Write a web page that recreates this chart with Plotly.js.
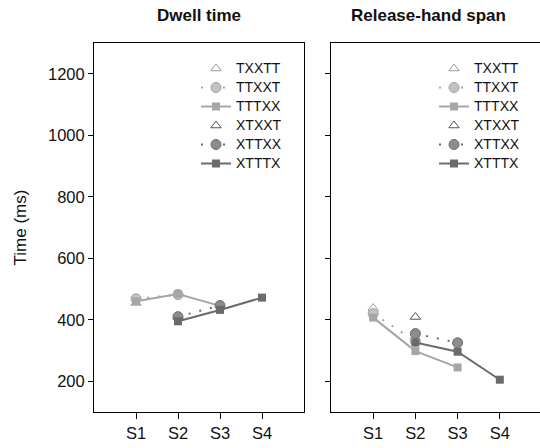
<!DOCTYPE html>
<html>
<head>
<meta charset="utf-8">
<script src="https://cdn.plot.ly/plotly-3.0.1.min.js"></script>
<style>html,body{margin:0;padding:0;background:#fff}#chart{width:540px;height:448px}</style>
</head>
<body>
<div id="chart"></div>
<script>
// Categories
const stages = ['S1', 'S2', 'S3', 'S4'];
const seriesNames = ['TXXTT', 'TTXXT', 'TTTXX', 'XTXXT', 'XTTXX', 'XTTTX'];
const panelTitles = ['Dwell time', 'Release-hand span'];
const yTicks = [200, 400, 600, 800, 1000, 1200];

// Dwell time (ms)
const dwellTXXTT = [455, null, null, null];
const dwellTTXXT = [468, 482, null, null];
const dwellTTTXX = [460, 484, 445, null];
const dwellXTXXT = [null, 410, null, null];
const dwellXTTXX = [null, 410, 446, null];
const dwellXTTTX = [null, 395, 432, 472];

// Release-hand span (ms)
const spanTXXTT = [438, null, null, null];
const spanTTXXT = [420, 330, null, null];
const spanTTTXX = [407, 298, 245, null];
const spanXTXXT = [null, 409, null, null];
const spanXTTXX = [null, 355, 325, null];
const spanXTTTX = [null, 326, 296, 205];

const xpos = stages.map((s, i) => i + 1);

const styles = {
  TXXTT: {mode: 'markers', marker: {symbol: 'triangle-up-open', size: 9, color: '#9a9a9a', line: {width: 1, color: '#9a9a9a'}}},
  TTXXT: {mode: 'lines+markers', line: {color: '#a8a8a8', width: 2, dash: '2px,9px'}, marker: {symbol: 'circle', size: 10, color: '#c2c2c2', line: {width: 1, color: '#a0a0a0'}}},
  TTTXX: {mode: 'lines+markers', line: {color: '#a6a6a6', width: 2}, marker: {symbol: 'square', size: 8, color: '#a6a6a6', line: {width: 0}}},
  XTXXT: {mode: 'markers', marker: {symbol: 'triangle-up-open', size: 9, color: '#555555', line: {width: 1, color: '#555555'}}},
  XTTXX: {mode: 'lines+markers', line: {color: '#6a6a6a', width: 2, dash: '2px,9px'}, marker: {symbol: 'circle', size: 10, color: '#8c8c8c', line: {width: 1, color: '#6a6a6a'}}},
  XTTTX: {mode: 'lines+markers', line: {color: '#6b6b6b', width: 2}, marker: {symbol: 'square', size: 8, color: '#6b6b6b', line: {width: 0}}}
};

const dwell = [dwellTXXTT, dwellTTXXT, dwellTTTXX, dwellXTXXT, dwellXTTXX, dwellXTTTX];
const span = [spanTXXTT, spanTTXXT, spanTTTXX, spanXTXXT, spanXTTXX, spanXTTTX];

const traces = [];
[dwell, span].forEach((panel, p) => {
  panel.forEach((vals, i) => {
    const name = seriesNames[i];
    const st = styles[name];
    traces.push(Object.assign({
      type: 'scatter',
      x: xpos,
      y: vals,
      name: '<span style="font-size:14px">' + name + '</span>',
      xaxis: p === 0 ? 'x' : 'x2',
      yaxis: p === 0 ? 'y' : 'y2',
      legend: p === 0 ? 'legend' : 'legend2',
      connectgaps: false
    }, JSON.parse(JSON.stringify(st))));
  });
});

const W = 540, H = 448;
const font = {family: 'Liberation Sans, Arial, sans-serif', color: '#111', size: 17};
const yTop = 1 - 43 / H, yBot = 1 - 412 / H;

const axisCommon = {
  showline: true, linecolor: '#000', linewidth: 1,
  showgrid: false, zeroline: false, ticks: 'outside', tickcolor: '#000',
  automargin: false, tickfont: {size: 16.5}
};

const legendCommon = {
  font: {family: font.family, size: 11, color: '#111'},
  bgcolor: 'rgba(0,0,0,0)', borderwidth: 0,
  xanchor: 'left', yanchor: 'top', tracegroupgap: 0
};

const layout = {
  width: W, height: H,
  margin: {l: 0, r: 0, t: 0, b: 0},
  paper_bgcolor: '#fff', plot_bgcolor: '#fff',
  font: font,
  xaxis: Object.assign({}, axisCommon, {
    domain: [94 / W, 304 / W], range: [0, 5], mirror: true,
    tickvals: xpos, ticktext: stages, ticklen: 6, anchor: 'y'
  }),
  yaxis: Object.assign({}, axisCommon, {
    domain: [yBot, yTop], range: [100, 1300], mirror: true,
    tickvals: yTicks, ticklen: 5, anchor: 'x',
    title: {text: 'Time (ms)', font: {size: 17}, standoff: 17}
  }),
  xaxis2: Object.assign({}, axisCommon, {
    domain: [331 / W, 1], range: [0, 209 / 42.2], mirror: true,
    tickvals: xpos, ticktext: stages, ticklen: 6, anchor: 'y2'
  }),
  yaxis2: Object.assign({}, axisCommon, {
    domain: [yBot, yTop], range: [100, 1300], mirror: false,
    tickvals: yTicks, ticklen: 5, anchor: 'x2',
    showticklabels: false
  }),
  legend: Object.assign({}, legendCommon, {x: 196 / W, y: 1 - 54 / H}),
  legend2: Object.assign({}, legendCommon, {x: 434 / W, y: 1 - 54 / H}),
  annotations: [
    {text: '<b>' + panelTitles[0] + '</b>', xref: 'paper', yref: 'paper', x: 199 / W, y: 1 - 16 / H,
     xanchor: 'center', yanchor: 'middle', showarrow: false, font: {size: 17}},
    {text: '<b>' + panelTitles[1] + '</b>', xref: 'paper', yref: 'paper', x: 428 / W, y: 1 - 16 / H,
     xanchor: 'center', yanchor: 'middle', showarrow: false, font: {size: 17}}
  ]
};

Plotly.newPlot('chart', traces, layout, {displayModeBar: false, staticPlot: true});
</script>
</body>
</html>
